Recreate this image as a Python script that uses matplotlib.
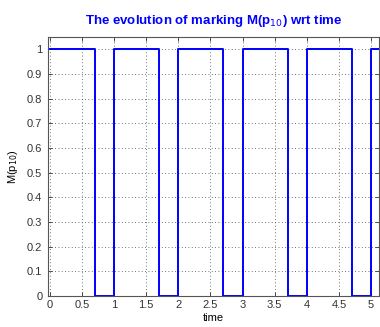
import numpy as np
import matplotlib
matplotlib.use('Agg')
import matplotlib.pyplot as plt

plt.rc('font', family=['Liberation Sans', 'DejaVu Sans'], size=8)

# marcatura di p10 nel tempo (step)
tempi = [0, 0.7, 1.0, 1.7, 2.0, 2.7, 3.0, 3.7, 4.0, 4.7, 5.0, 5.12]
marcatura = [1, 0, 1, 0, 1, 0, 1, 0, 1, 0, 1, 1]

fig = plt.figure(figsize=(3.8, 3.27), dpi=100)
ax = fig.add_axes([0.126, 0.095, 0.871, 0.792])

ax.plot(tempi, marcatura, drawstyle='steps-post', color='#0000ff', lw=1.4)

ax.set_xlim(-0.03, 5.12)
ax.set_ylim(0, 1.05)
ax.set_xticks(np.arange(0, 5.01, 0.5))
ax.set_xticklabels(['0', '0.5', '1', '1.5', '2', '2.5', '3', '3.5', '4', '4.5', '5'])
ax.set_yticks(np.arange(0, 1.01, 0.1))
ax.set_yticklabels(['0', '0.1', '0.2', '0.3', '0.4', '0.5', '0.6', '0.7', '0.8', '0.9', '1'])

ax.grid(True, linestyle=(0, (1, 3)), color='#444444', lw=0.6)
ax.tick_params(direction='in', top=True, right=True, length=3, width=0.6, colors='#333333')
ax.tick_params(axis='y', pad=4)
ax.tick_params(axis='x', pad=3)
for s in ax.spines.values():
    s.set_color('#555555')
    s.set_linewidth(0.8)

ax.set_xlabel('time', labelpad=2)
ax.set_ylabel(r'M(p$_{10}$)', labelpad=5)
ax.set_title(r'The evolution of marking M(p$_{10}$) wrt time', color='#0000ff',
             fontsize=9.5, fontweight='bold', pad=9)

plt.savefig('out.png', dpi=100)
